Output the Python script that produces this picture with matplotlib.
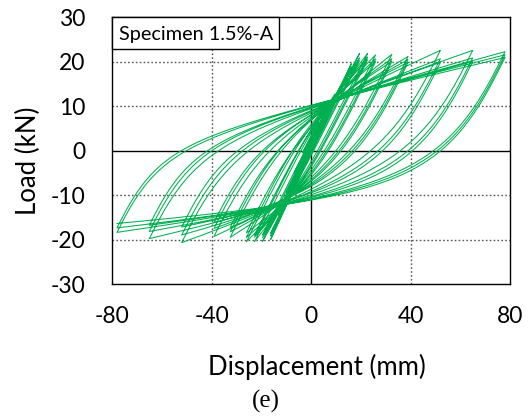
import numpy as np
import matplotlib
matplotlib.use("Agg")
import matplotlib.pyplot as plt
from matplotlib.patches import Rectangle

# ---- data ----
amplitudes = [3.25, 6.5, 9.75, 13.0, 16.25, 19.5, 22.75, 26.0, 32.5, 39.0, 52.0, 65.0, 78.0]
pos_peaks = [
    [6.3, 6.1, 6.0],
    [9.6, 9.3, 9.1],
    [12.7, 12.3, 12.0],
    [15.5, 15.0, 14.6],
    [19.5, 18.8, 18.3],
    [21.8, 20.8, 20.2],
    [21.8, 21.0, 20.4],
    [21.5, 20.6, 20.0],
    [21.6, 20.6, 20.0],
    [21.1, 20.4, 19.8],
    [22.5, 20.6, 19.8],
    [22.5, 20.8, 20.0],
    [22.2, 21.5, 20.9],
]
neg_peaks = [
    [-0.6, -0.4, -0.3],
    [-5.2, -4.9, -4.7],
    [-10.0, -9.6, -9.3],
    [-14.5, -14.0, -13.6],
    [-20.0, -19.2, -18.6],
    [-20.4, -19.6, -19.0],
    [-20.5, -19.5, -19.0],
    [-20.5, -19.5, -18.5],
    [-19.5, -18.3, -17.3],
    [-19.3, -17.5, -16.2],
    [-20.7, -19.0, -17.2],
    [-19.8, -18.2, -16.8],
    [-18.4, -17.4, -16.4],
]
x_ticks = [-80, -40, 0, 40, 80]
y_ticks = [-30, -20, -10, 0, 10, 20, 30]

# ---- hysteresis branch shape (Menegotto-Pinto type) ----
E0 = 1.1
pivot_up = (7.5, 11.8)
pivot_dn = (-13.0, -13.8)


def branch(x0, y0, x1, y1, amp, n=200):
    sgn = 1.0 if x1 > x0 else -1.0
    xp, yp = pivot_up if sgn > 0 else pivot_dn
    if sgn * (x1 - xp) > 3:
        Eh = (y1 - yp) / (x1 - xp)
    else:
        Eh = 0.5 * E0
    Eh = float(np.clip(Eh, 0.02, 0.8 * E0))
    xs = (y1 - y0 + E0 * x0 - Eh * x1) / (E0 - Eh)
    ys = y0 + E0 * (xs - x0)
    R = min(1.7 + 20.0 * np.exp(-(amp - 13.0) / 5.0), 25.0)
    x = np.linspace(x0, x1, n)
    es = (x - x0) / (xs - x0)
    b = Eh / E0
    ss = b * es + (1 - b) * es / (1 + np.abs(es) ** R) ** (1.0 / R)
    y = y0 + ss * (ys - y0)
    y = y0 + (y - y0) * (y1 - y0) / (y[-1] - y0)
    return x, y


xs_all, ys_all = [], []
cx, cy = 0.0, 0.0
for A, pp, nn in zip(amplitudes, pos_peaks, neg_peaks):
    for p, q in zip(pp, nn):
        bx, by = branch(cx, cy, A, p, A)
        xs_all.append(bx); ys_all.append(by)
        cx, cy = A, p
        bx, by = branch(cx, cy, -A, q, A)
        xs_all.append(bx); ys_all.append(by)
        cx, cy = -A, q
X = np.concatenate(xs_all)
Y = np.concatenate(ys_all)

# ---- figure ----
plt.rcParams['font.family'] = ['Lato', 'DejaVu Sans']
fig = plt.figure(figsize=(5.29, 4.19), dpi=100)
ax = fig.add_axes([112 / 529, 1 - 284 / 419, 398 / 529, 267 / 419])

for xv in x_ticks:
    if xv not in (0, x_ticks[0], x_ticks[-1]):
        ax.axvline(xv, color='#555555', lw=1.0, ls=(0, (1.2, 1.6)), zorder=1)
for yv in y_ticks:
    if yv not in (0, y_ticks[0], y_ticks[-1]):
        ax.axhline(yv, color='#555555', lw=1.0, ls=(0, (1.2, 1.6)), zorder=1)
ax.axvline(0, color='black', lw=1.0, zorder=1)
ax.axhline(0, color='black', lw=1.0, zorder=1)

ax.plot(X, Y, color='#00B050', lw=0.75, zorder=3)

ax.set_xlim(-80, 80)
ax.set_ylim(-30, 30)
ax.set_xticks(x_ticks)
ax.set_yticks(y_ticks)
ax.set_xticklabels([str(v) for v in x_ticks])
ax.set_yticklabels([str(v) for v in y_ticks])
ax.tick_params(length=0, labelsize=16.5)
ax.tick_params(axis='x', pad=16)
ax.tick_params(axis='y', pad=19)
for s in ax.spines.values():
    s.set_linewidth(1.0)
    s.set_color('black')

ax.set_xlabel('Displacement (mm)', fontsize=18.5)
ax.set_ylabel('Load (kN)', fontsize=18.5)
ax.xaxis.set_label_coords(0.515, -0.262)
ax.yaxis.set_label_coords(-0.178, 0.46)

ax.add_patch(Rectangle((0, (284 - 49) / 267), (279 - 112) / 398, 1 - (284 - 49) / 267,
                       transform=ax.transAxes, facecolor='white', edgecolor='black',
                       lw=1.0, zorder=5, clip_on=False))
ax.text((119 - 112) / 398, (284 - 34) / 267, 'Specimen 1.5%-A', transform=ax.transAxes,
        fontsize=14.3, ha='left', va='center', zorder=6)

fig.text(0.503, 1 - 401 / 419, '(e)', fontsize=18, family='Liberation Serif',
         ha='center', va='center')

fig.savefig('out.png', dpi=100)
